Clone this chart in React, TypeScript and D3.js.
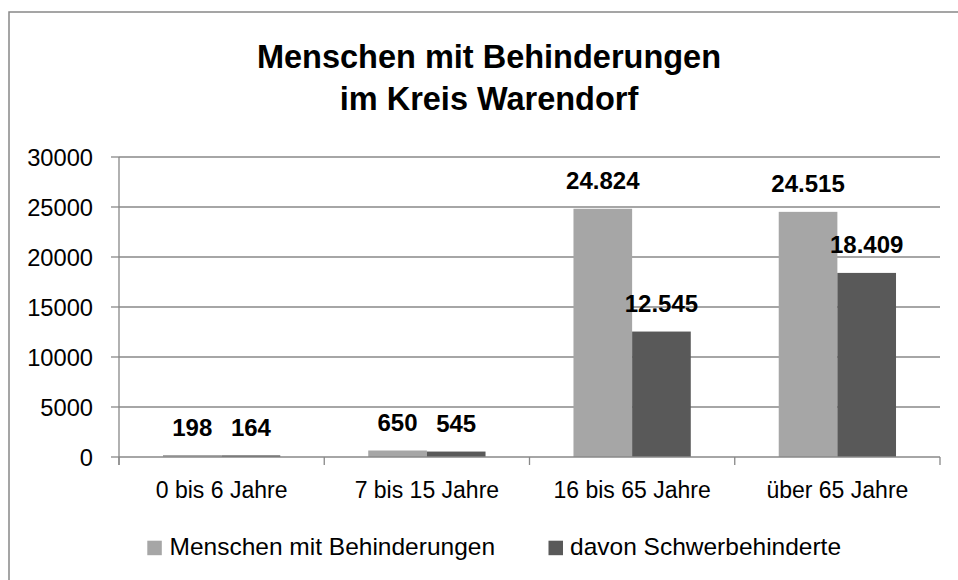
import React from "react";
import * as d3 from "d3";

const categories = ["0 bis 6 Jahre", "7 bis 15 Jahre", "16 bis 65 Jahre", "über 65 Jahre"];
const seriesNames = ["Menschen mit Behinderungen", "davon Schwerbehinderte"];
const menschen = [198, 650, 24824, 24515];
const schwer = [164, 545, 12545, 18409];
const yTicks = [0, 5000, 10000, 15000, 20000, 25000, 30000];
const titleLines = ["Menschen mit Behinderungen", "im Kreis Warendorf"];

const colors = ["#a6a6a6", "#595959"];
const axisColor = "#888888";
const FONT = "'Liberation Sans', Arial, sans-serif";

const deLocale = d3.formatLocale({ decimal: ",", thousands: ".", grouping: [3], currency: ["", " €"] });
const fmtLabel = deLocale.format(",d");

export default function App() {
  const W = 958, H = 580;
  const left = 119, right = 940, top = 157, bottom = 457;
  const y = d3.scaleLinear().domain([0, 30000]).range([bottom, top]);
  const x = d3.scaleBand<string>().domain(categories).range([left, right]).paddingInner(0).paddingOuter(0);
  const xs = d3.scaleBand<string>().domain(seriesNames).range([0, x.bandwidth()]).paddingInner(0).paddingOuter(0.75);
  const series = [menschen, schwer];
  const boundaries = [...categories.map((c) => x(c) as number), right];

  return (
    <svg width={W} height={H} style={{ position: "absolute", left: 0, top: 0, background: "#fff" }} fontFamily={FONT}>
      <rect x={9} y={12} width={1000} height={1000} fill="#fff" stroke={axisColor} strokeWidth={1.5} />
      {titleLines.map((t, i) => (
        <text key={t} x={489} y={68 + i * 42} textAnchor="middle" fontSize={32.5} fontWeight="bold" fill="#000">
          {t}
        </text>
      ))}
      {yTicks.map((v) => (
        <g key={v}>
          {v > 0 && <line x1={left} x2={right} y1={y(v)} y2={y(v)} stroke={axisColor} strokeWidth={1.3} />}
          <line x1={left - 8} x2={left} y1={y(v)} y2={y(v)} stroke={axisColor} strokeWidth={1.3} />
          <text x={93} y={y(v)} dy="0.36em" textAnchor="end" fontSize={23.7} fill="#000">
            {String(v)}
          </text>
        </g>
      ))}
      {series.map((vals, si) =>
        categories.map((c, ci) => {
          const bx = (x(c) as number) + (xs(seriesNames[si]) as number);
          const by = y(vals[ci]);
          return (
            <g key={si + "-" + ci}>
              <rect x={bx} y={by} width={xs.bandwidth()} height={bottom - by} fill={colors[si]} />
              <text x={bx + xs.bandwidth() / 2} y={by - 19.5} textAnchor="middle" fontSize={24} fontWeight="bold" fill="#000">
                {fmtLabel(vals[ci])}
              </text>
            </g>
          );
        })
      )}
      <line x1={left} x2={left} y1={top} y2={bottom + 8} stroke={axisColor} strokeWidth={1.3} />
      <line x1={left} x2={right} y1={bottom} y2={bottom} stroke={axisColor} strokeWidth={1.3} />
      {boundaries.map((b, i) => (
        <line key={i} x1={b} x2={b} y1={bottom} y2={bottom + 8} stroke={axisColor} strokeWidth={1.3} />
      ))}
      {categories.map((c) => (
        <text key={c} x={(x(c) as number) + x.bandwidth() / 2} y={498} textAnchor="middle" fontSize={23} fill="#000">
          {c}
        </text>
      ))}
      <rect x={147.3} y={540.7} width={14.5} height={14.5} fill={colors[0]} />
      <text x={169.5} y={555} fontSize={24.5} fill="#000">{seriesNames[0]}</text>
      <rect x={548.5} y={540.7} width={14.5} height={14.5} fill={colors[1]} />
      <text x={570} y={555} fontSize={24.5} fill="#000">{seriesNames[1]}</text>
    </svg>
  );
}
